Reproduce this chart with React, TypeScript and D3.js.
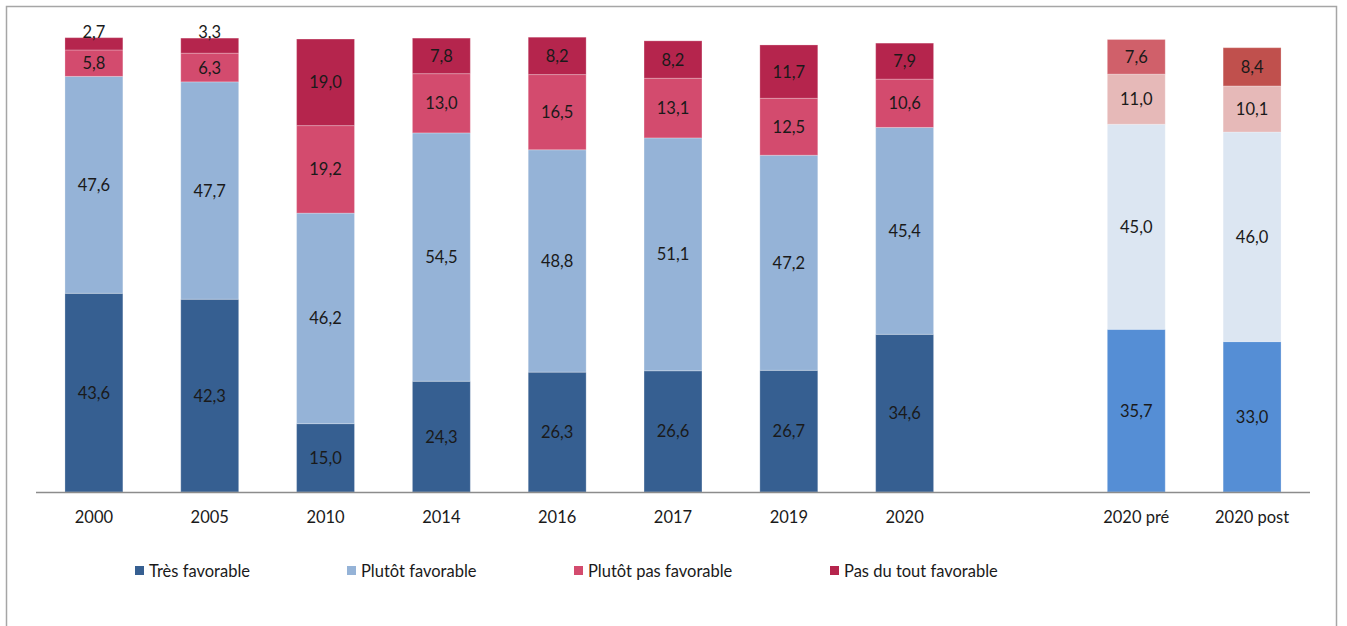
import React from "react";
import * as d3 from "d3";

const categories = ["2000", "2005", "2010", "2014", "2016", "2017", "2019", "2020", "", "2020 pré", "2020 post"];
const seriesNames = ["Très favorable", "Plutôt favorable", "Plutôt pas favorable", "Pas du tout favorable"];
const tresFavorable = [43.6, 42.3, 15.0, 24.3, 26.3, 26.6, 26.7, 34.6, null, 35.7, 33.0];
const plutotFavorable = [47.6, 47.7, 46.2, 54.5, 48.8, 51.1, 47.2, 45.4, null, 45.0, 46.0];
const plutotPas = [5.8, 6.3, 19.2, 13.0, 16.5, 13.1, 12.5, 10.6, null, 11.0, 10.1];
const pasDuTout = [2.7, 3.3, 19.0, 7.8, 8.2, 8.2, 11.7, 7.9, null, 7.6, 8.4];
const mainColors = ["#365F91", "#95B3D7", "#D34B6E", "#B5254D"];
const preColors = ["#558ED5", "#DCE6F2", "#E6B9B8", "#D0606A"];
const postColors = ["#558ED5", "#DCE6F2", "#E6B9B8", "#C0504D"];

const W = 1347;
const H = 626;
const FONT = "Lato, 'Open Sans', sans-serif";

export default function App() {
  const series = [tresFavorable, plutotFavorable, plutotPas, pasDuTout];
  const x = d3.scaleBand<string>().domain(categories.map((c, i) => c || `blank${i}`)).range([36, 1310]).paddingInner(0.5).paddingOuter(0.25);
  const y = d3.scaleLinear().domain([0, 100]).range([492, 36.3]);
  const fmt = (v: number) => v.toFixed(1).replace(".", ",");
  const colorFor = (ci: number, si: number) => {
    if (categories[ci] === "2020 pré") return preColors[si];
    if (categories[ci] === "2020 post") return postColors[si];
    return mainColors[si];
  };

  const bars: React.ReactNode[] = [];
  const labels: React.ReactNode[] = [];
  categories.forEach((c, ci) => {
    const key = c || `blank${ci}`;
    let cum = 0;
    series.forEach((s, si) => {
      const v = s[ci];
      if (v == null) return;
      const y0 = y(cum);
      const y1 = y(cum + v);
      cum += v;
      const bx = x(key)!;
      bars.push(
        <rect key={`b${ci}-${si}`} x={bx} y={y1} width={x.bandwidth()} height={y0 - y1} fill={colorFor(ci, si)} stroke="#ffffff" strokeOpacity={0.25} strokeWidth={1} />
      );
      const h = y0 - y1;
      const ly = h < 16 ? y1 - 6 : (y0 + y1) / 2;
      labels.push(
        <text key={`l${ci}-${si}`} x={bx + x.bandwidth() / 2} y={ly} textAnchor="middle" dominantBaseline="central" fontSize={16.5} fill="#1a1a1a" fontFamily={FONT}>
          {fmt(v)}
        </text>
      );
    });
  });

  const legendX = [135, 347, 574, 830];

  return (
    <div style={{ position: "absolute", left: 0, top: 0 }}>
      <svg width={W} height={H} style={{ display: "block" }}>
        <rect x={0} y={0} width={W} height={H} fill="#ffffff" />
        <rect x={6.5} y={6.5} width={1330} height={640} fill="none" stroke="#A6A6A6" strokeWidth={1.5} />
        {bars}
        <line x1={36} x2={1310} y1={492.5} y2={492.5} stroke="#8C8C8C" strokeWidth={1.5} />
        {labels}
        {categories.map((c, ci) =>
          c ? (
            <text key={`t${ci}`} x={x(c)! + x.bandwidth() / 2} y={517} textAnchor="middle" dominantBaseline="central" fontSize={16.5} fill="#1a1a1a" fontFamily={FONT}>
              {c}
            </text>
          ) : null
        )}
        {seriesNames.map((n, i) => (
          <g key={`lg${i}`}>
            <rect x={legendX[i]} y={566} width={9} height={9} fill={mainColors[i]} />
            <text x={legendX[i] + 14} y={571} dominantBaseline="central" fontSize={16.5} fill="#1a1a1a" fontFamily={FONT}>
              {n}
            </text>
          </g>
        ))}
      </svg>
    </div>
  );
}
